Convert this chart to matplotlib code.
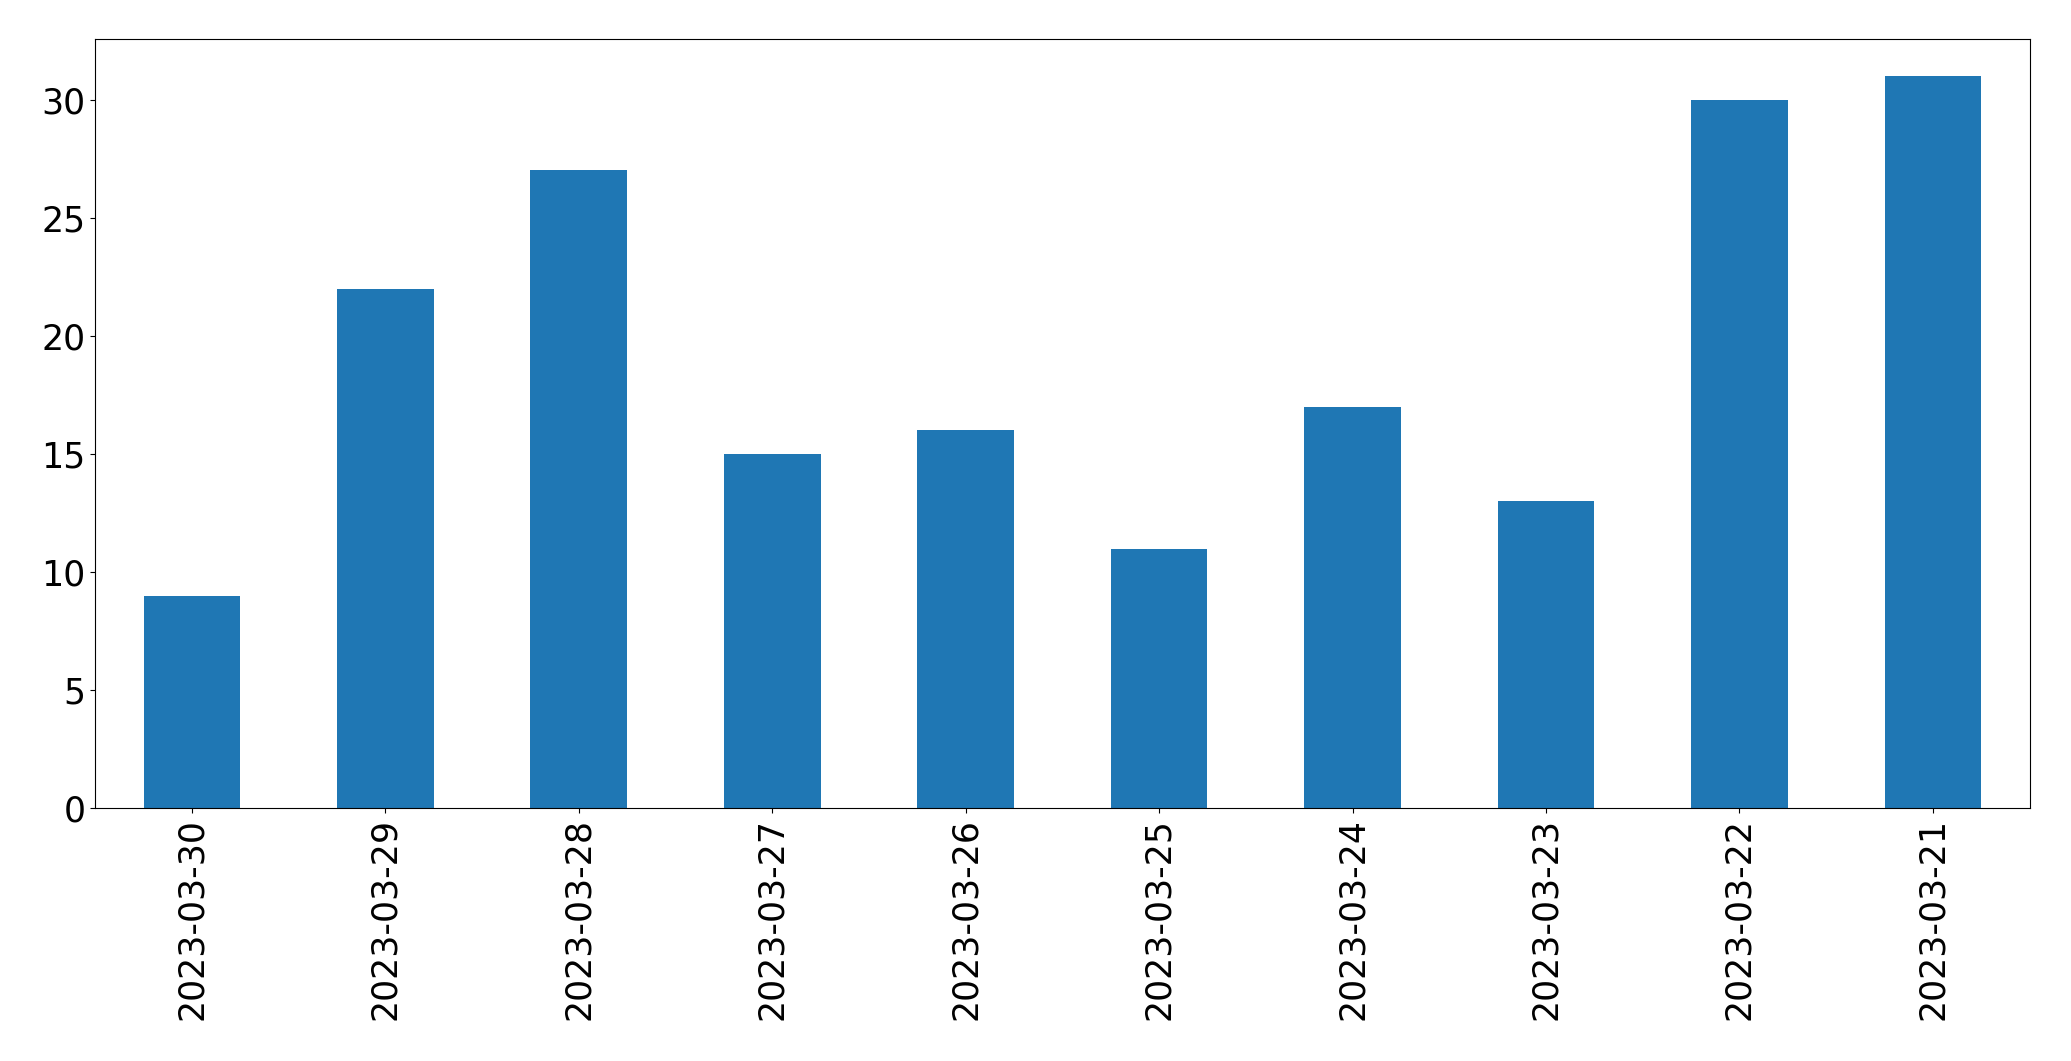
import matplotlib
matplotlib.use("Agg")
import matplotlib.pyplot as plt

dates = ["2023-03-30","2023-03-29","2023-03-28","2023-03-27","2023-03-26",
         "2023-03-25","2023-03-24","2023-03-23","2023-03-22","2023-03-21"]
values = [9, 22, 27, 15, 16, 11, 17, 13, 30, 31]

fig = plt.figure(figsize=(20.71, 10.61), dpi=100)
ax = fig.add_axes([0.046, 0.238, 0.934, 0.725])
x = range(len(dates))
ax.bar(x, values, width=0.5, color="#1f77b4")
ax.set_xticks(list(x))
ax.set_xticklabels(dates, rotation=90)
ax.set_xlim(-0.5, len(dates) - 0.5)
ax.set_ylim(0, 32.55)
ax.set_yticks([0, 5, 10, 15, 20, 25, 30])
ax.tick_params(labelsize=25)
fig.savefig("out.png", dpi=100)
